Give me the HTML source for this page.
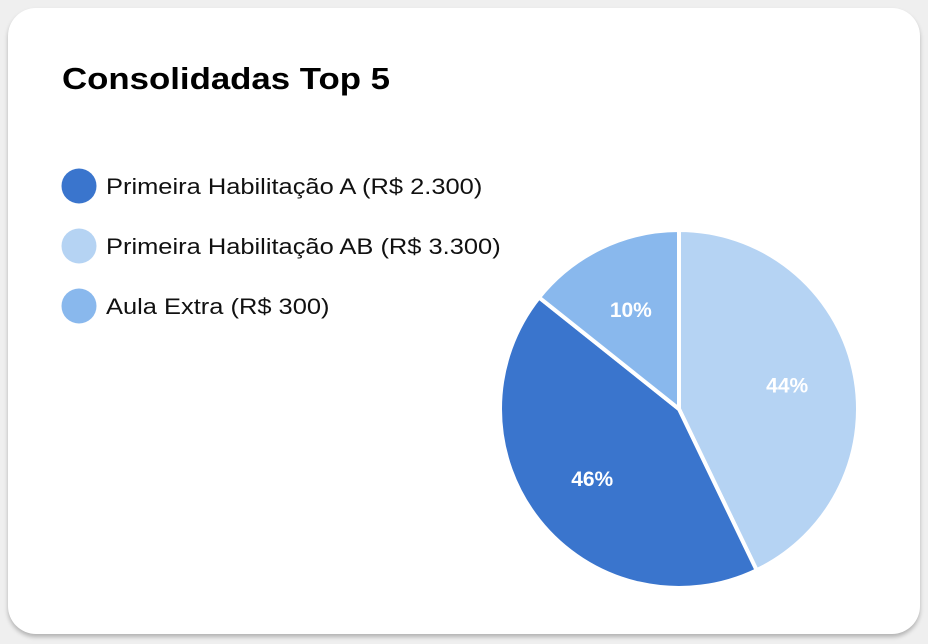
<!DOCTYPE html>
<html><head><meta charset="utf-8"><style>
html,body{margin:0;padding:0;width:928px;height:644px;background:#efefef;font-family:"Liberation Sans",sans-serif;overflow:hidden}
.card{position:absolute;left:8px;top:8px;width:912px;height:626px;background:#fff;border-radius:28px;box-shadow:0 3px 4px rgba(0,0,0,0.25)}
</style></head><body>
<div class="card"></div>
<svg id="chart" width="928" height="644" style="position:absolute;left:0;top:0">
<text x="62" y="89" font-size="31" font-weight="bold" fill="#000" textLength="328" lengthAdjust="spacingAndGlyphs">Consolidadas Top 5</text>
</svg>
<script>
const categories=["Primeira Habilitação AB (R$ 3.300)","Primeira Habilitação A (R$ 2.300)","Aula Extra (R$ 300)"];
const values=[3,3,1];
const printedLabels=["44%","46%","10%"];
const legendOrder=[1,0,2];
const colors=["#b5d3f3","#3a75cd","#89b8ed"];
const svg=document.getElementById('chart');
const NS="http://www.w3.org/2000/svg";
const cx=679,cy=409,r=179;
const total=values.reduce((a,b)=>a+b,0);
function ang(v){return v/total*Math.PI*2;}
function pt(a,rad){return [cx+rad*Math.sin(a),cy-rad*Math.cos(a)];}
let acc=0;
values.forEach((v,i)=>{
  const a0=ang(acc),a1=ang(acc+v);acc+=v;
  const p0=pt(a0,r),p1=pt(a1,r);
  const large=(a1-a0)>Math.PI?1:0;
  const path=document.createElementNS(NS,'path');
  path.setAttribute('d',`M${cx},${cy}L${p0[0]},${p0[1]}A${r},${r} 0 ${large} 1 ${p1[0]},${p1[1]}Z`);
  path.setAttribute('fill',colors[i]);
  path.setAttribute('stroke','#fff');
  path.setAttribute('stroke-width','4');
  path.setAttribute('stroke-linejoin','round');
  
  
  svg.appendChild(path);
  const m=pt((a0+a1)/2,r*0.62);
  const t=document.createElementNS(NS,'text');
  t.setAttribute('x',m[0]);t.setAttribute('y',m[1]+8);
  t.setAttribute('text-anchor','middle');
  t.setAttribute('font-size','21');t.setAttribute('font-weight','bold');
  t.setAttribute('fill','#fff');
  t.textContent=printedLabels[i];
  
  
  svg.appendChild(t);
});
legendOrder.forEach((ci,k)=>{
  const y=186+k*60;
  const c=document.createElementNS(NS,'circle');
  c.setAttribute('cx',79);c.setAttribute('cy',y);c.setAttribute('r',17.5);
  c.setAttribute('fill',colors[ci]);
  
  
  svg.appendChild(c);
  const t=document.createElementNS(NS,'text');
  t.setAttribute('x',106);t.setAttribute('y',y+8);
  t.setAttribute('font-size','22');t.setAttribute('fill','#111');
  t.textContent=categories[ci];
  
  
  svg.appendChild(t);
  const w=t.getComputedTextLength();
  t.setAttribute('textLength',(w*1.157).toFixed(1));
  t.setAttribute('lengthAdjust','spacingAndGlyphs');
});
</script>
</body></html>
